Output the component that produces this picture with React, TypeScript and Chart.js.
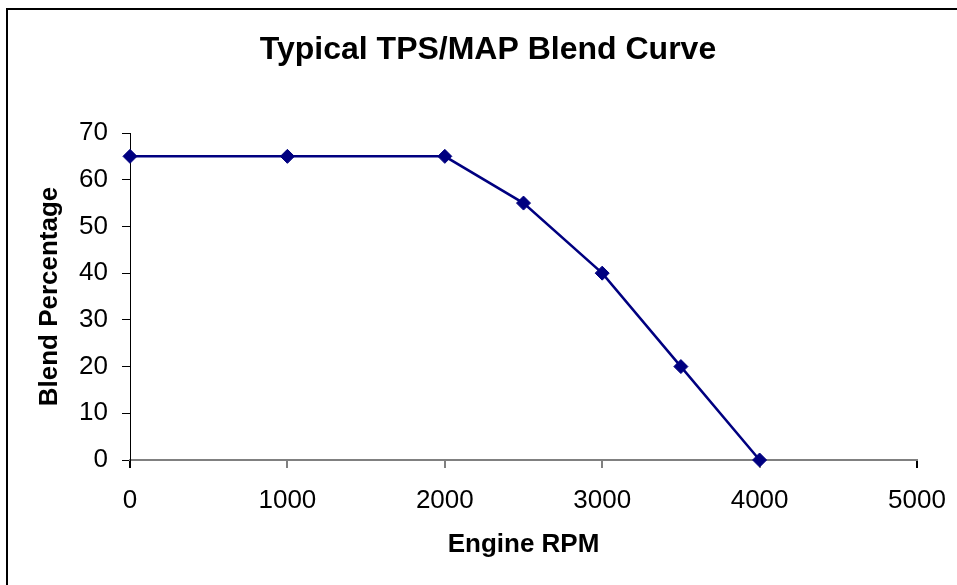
import React, { useEffect, useRef } from "react";
import { Chart, registerables } from "chart.js";

Chart.register(...registerables);

// Blend curve: engine speed vs. TPS/MAP blend percentage
const rpmValues: number[] = [0, 1000, 2000, 2500, 3000, 3500, 4000];
const blendValues: number[] = [65, 65, 65, 55, 40, 20, 0];

const chartTitle = "Typical TPS/MAP Blend Curve";
const xAxisTitle = "Engine RPM";
const yAxisTitle = "Blend Percentage";

const FONT = "'Liberation Sans', Arial, Helvetica, sans-serif";
const NAVY = "#000080";
const GRAY = "#808080";

// Draws the outer chart frame and the centred chart heading
const framePlugin = {
  id: "frameAndHeading",
  beforeDraw(chart: Chart) {
    const { ctx, width, height } = chart;
    ctx.save();
    ctx.fillStyle = "#ffffff";
    ctx.fillRect(0, 0, width, height);
    ctx.strokeStyle = "#000000";
    ctx.lineWidth = 2;
    ctx.beginPath();
    ctx.moveTo(7, height + 2);
    ctx.lineTo(7, 9);
    ctx.lineTo(width + 2, 9);
    ctx.stroke();
    ctx.restore();
  },
  afterDraw(chart: Chart) {
    const { ctx } = chart;
    ctx.save();
    ctx.fillStyle = "#000000";
    ctx.font = `bold 32px ${FONT}`;
    ctx.textAlign = "center";
    ctx.textBaseline = "alphabetic";
    ctx.fillText(chartTitle, 488, 59);
    ctx.restore();
  },
};

export default function App() {
  const canvasRef = useRef<HTMLCanvasElement | null>(null);

  useEffect(() => {
    if (!canvasRef.current) return;
    const chart = new Chart(canvasRef.current, {
      type: "line",
      data: {
        datasets: [
          {
            label: yAxisTitle,
            data: rpmValues.map((x, i) => ({ x, y: blendValues[i] })),
            borderColor: NAVY,
            backgroundColor: NAVY,
            borderWidth: 2.5,
            pointStyle: "rectRot",
            pointRadius: 7,
            pointBorderWidth: 1,
            pointBackgroundColor: NAVY,
            pointBorderColor: NAVY,
            tension: 0,
            fill: false,
            clip: false,
          },
        ],
      },
      options: {
        responsive: false,
        animation: false,
        devicePixelRatio: 1,
        layout: { padding: { top: 133, left: 0, right: 40, bottom: 0 } },
        plugins: {
          legend: { display: false },
          title: { display: false },
          tooltip: { enabled: false },
        },
        scales: {
          x: {
            type: "linear",
            min: 0,
            max: 5000,
            afterFit(scale: any) {
              scale.height = 125;
              scale.paddingLeft = 0;
              scale.paddingRight = 0;
            },
            ticks: {
              stepSize: 1000,
              padding: 17,
              color: "#000000",
              font: { family: FONT, size: 26 },
              maxRotation: 0,
              callback: (v: any) => String(v),
            },
            grid: {
              display: true,
              drawOnChartArea: false,
              drawTicks: true,
              tickLength: 8,
              lineWidth: 2,
              color: (c: any) =>
                c.tick && (c.tick.value === 0 || c.tick.value === 5000) ? "#000000" : GRAY,
            },
            border: { display: true, color: GRAY, width: 2 },
            title: {
              display: true,
              text: xAxisTitle,
              color: "#000000",
              font: { family: FONT, size: 26, weight: "bold" },
              padding: { top: 0, bottom: 25 },
            },
          },
          y: {
            type: "linear",
            min: 0,
            max: 70,
            afterFit(scale: any) {
              scale.width = 130;
              scale.paddingTop = 0;
              scale.paddingBottom = 0;
            },
            ticks: {
              stepSize: 10,
              padding: 14,
              color: "#000000",
              font: { family: FONT, size: 26 },
              callback: (v: any) => String(v),
            },
            grid: {
              display: true,
              drawOnChartArea: false,
              drawTicks: true,
              tickLength: 8,
              lineWidth: 1,
              color: "#000000",
            },
            border: { display: true, color: "#000000", width: 1 },
            title: {
              display: true,
              text: yAxisTitle,
              color: "#000000",
              font: { family: FONT, size: 26, weight: "bold" },
              padding: { top: 34, bottom: 0 },
            },
          },
        },
      },
      plugins: [framePlugin],
    });
    return () => chart.destroy();
  }, []);

  return (
    <div style={{ position: "absolute", left: 0, top: 0, width: 957, height: 585, overflow: "hidden" }}>
      <canvas ref={canvasRef} width={957} height={585} style={{ display: "block" }} />
    </div>
  );
}
